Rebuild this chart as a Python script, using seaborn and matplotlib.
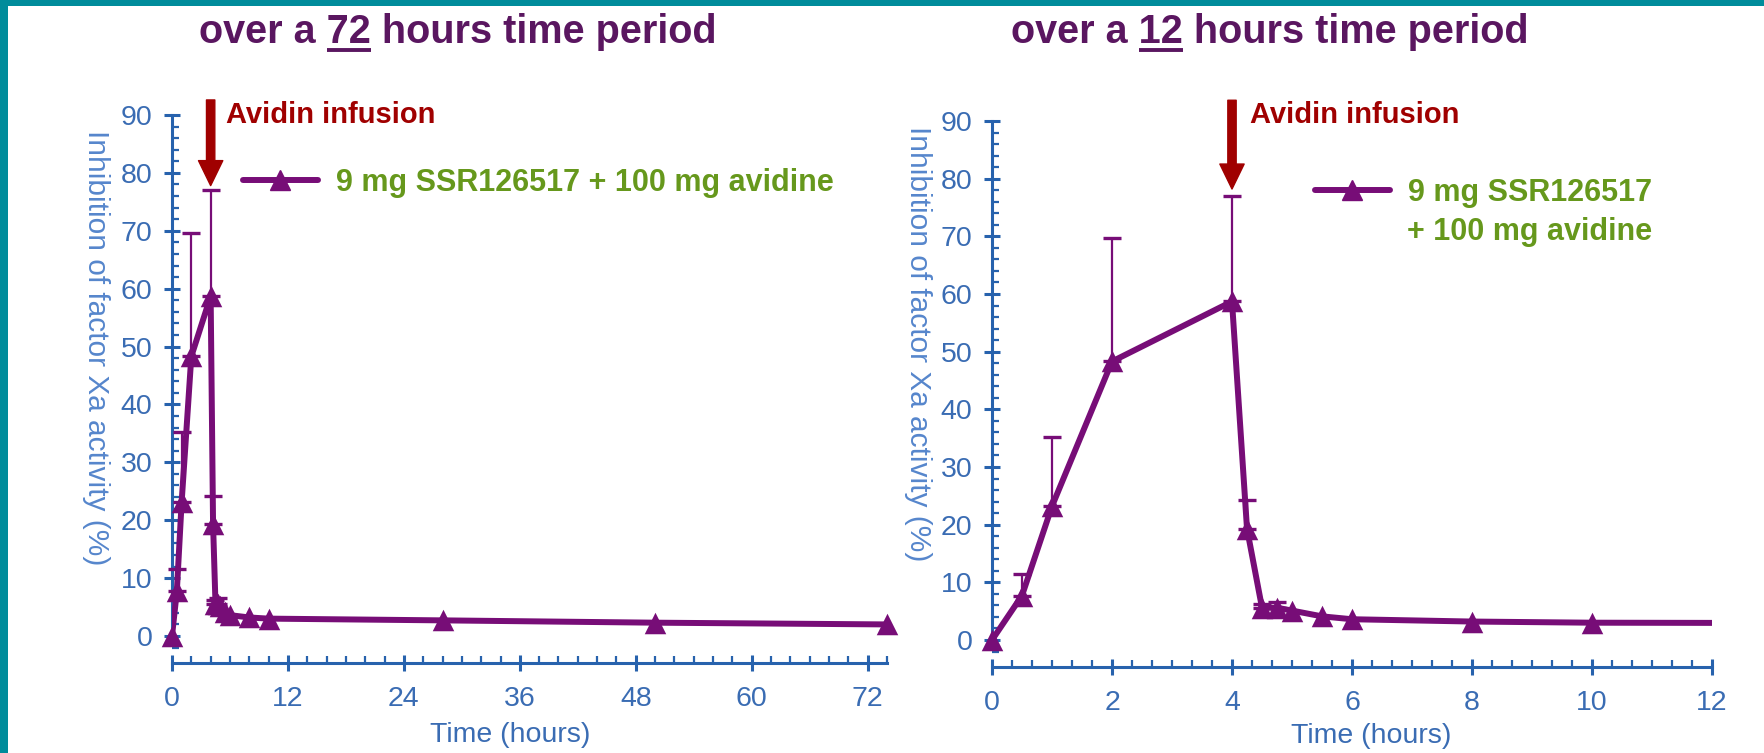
import numpy as np
import pandas as pd
import matplotlib
matplotlib.use("Agg")
import matplotlib.pyplot as plt
import seaborn as sns
from matplotlib.ticker import MultipleLocator
from matplotlib.lines import Line2D
from matplotlib.patches import Rectangle
from matplotlib.font_manager import FontProperties

# ---------------- data ----------------
time_h = [0, 0.5, 1, 2, 4, 4.25, 4.5, 4.75, 5, 5.5, 6, 8, 10, 28, 50, 74]
inhibition_pct = [0, 7.7, 23.2, 48.3, 58.7, 19.3, 5.6, 5.6, 5.1, 4.1, 3.6, 3.2, 3.0, 2.7, 2.3, 2.0]
error_time_h = [0.5, 1, 2, 4, 4.25, 4.5, 4.75]
error_top_pct = [11.5, 35.2, 69.7, 77.0, 24.2, 6.3, 6.6]
infusion_time_h = 4
series_label = "9 mg SSR126517 + 100 mg avidine"
title_parts = [("over a ", "72", " hours time period"), ("over a ", "12", " hours time period")]
x_max = [74, 12]
x_major = [12, 2]
x_minor = [2, 1 / 3]
y_max = 90

df = pd.DataFrame({"time": time_h, "inhibition": inhibition_pct})
err = pd.DataFrame({"time": error_time_h, "top": error_top_pct})
err["mean"] = err["time"].map(dict(zip(time_h, inhibition_pct)))

# ---------------- style ----------------
sns.set_style("white")
plt.rcParams["font.family"] = ["Liberation Sans", "DejaVu Sans"]

PURPLE = "#770d77"
AXBLUE = "#2762ad"
TICKBLUE = "#3a6cb3"
YLBLUE = "#5686cc"
RED = "#a00000"
GREEN = "#66981c"
TITLE = "#5a1660"
TEAL = "#008c9b"

W, H = 1764, 753
fig = plt.figure(figsize=(W / 100, H / 100), dpi=100)
fig.patch.set_facecolor("white")

# axes placement (pixel geometry measured from reference)
ax_specs = [
    dict(left=172, right=887, y0=636, y90=115),
    dict(left=992, right=1712, y0=640, y90=121),
]
axes = []
for spec in ax_specs:
    ppu = (spec["y0"] - spec["y90"]) / 90.0
    bottom_px = spec["y0"] + 3 * ppu
    ax = fig.add_axes([spec["left"] / W, 1 - bottom_px / H,
                       (spec["right"] - spec["left"]) / W, (bottom_px - spec["y90"]) / H])
    axes.append(ax)

ylabel_pos = [(-0.106, 0.567), (-0.103, 0.585)]
xlabel_pos = [(0.473, -0.152), (0.527, -0.146)]
avidin_offset = [15, 18]
avidin_text_y = [90.0, 91.0]
arrow_top_y = [92.6, 93.6]
arrow_tip_y = [77.8, 78.2]

for i, ax in enumerate(axes):
    ax.set_facecolor("white")
    sns.lineplot(data=df, x="time", y="inhibition", ax=ax, color=PURPLE,
                 linewidth=4.3, estimator=None, sort=False, zorder=3)
    sns.scatterplot(data=df, x="time", y="inhibition", ax=ax, color=PURPLE,
                    marker="^", s=240, linewidth=0, zorder=4, clip_on=False)
    ax.errorbar(err["time"], err["mean"],
                yerr=[np.zeros(len(err)), err["top"] - err["mean"]],
                fmt="none", ecolor=PURPLE, elinewidth=1.6, capsize=6.5,
                capthick=2.4, zorder=2, clip_on=False)

    ax.set_xlim(0, x_max[i])
    ax.set_ylim(-3, y_max)
    for s in ["top", "right"]:
        ax.spines[s].set_visible(False)
    ax.spines["left"].set_bounds(0, y_max)
    ax.spines["bottom"].set_bounds(0, x_max[i])
    ax.spines["bottom"].set_position(("outward", 7.2))
    for s in ["left", "bottom"]:
        ax.spines[s].set_color(AXBLUE)
        ax.spines[s].set_linewidth(2.2)
        ax.spines[s].set_zorder(1)

    ax.yaxis.set_major_locator(MultipleLocator(10))
    ax.yaxis.set_minor_locator(MultipleLocator(2))
    ax.xaxis.set_major_locator(MultipleLocator(x_major[i]))
    ax.xaxis.set_minor_locator(MultipleLocator(x_minor[i]))
    ax.tick_params(which="major", direction="inout", length=12, width=2.2,
                   color=AXBLUE, labelsize=20.5, labelcolor=TICKBLUE)
    ax.tick_params(axis="y", which="major", pad=8, left=True)
    ax.tick_params(axis="x", which="major", pad=10, bottom=True)
    ax.tick_params(which="minor", direction="in", length=5, width=1.6,
                   color=AXBLUE, left=True, bottom=True)
    ax.set_xticks(np.arange(0, x_max[i] + 0.01, x_major[i])[: int(x_max[i] // x_major[i]) + 1])

    ax.set_xlabel("Time (hours)", fontsize=20.5, color=TICKBLUE, va="center")
    ax.xaxis.set_label_coords(*xlabel_pos[i])
    ax.set_ylabel("Inhibition of factor Xa activity (%)", fontsize=21.5, color=YLBLUE,
                  rotation=270, va="center", ha="center", rotation_mode="default")
    ax.yaxis.set_label_coords(*ylabel_pos[i])

    # avidin infusion arrow + label
    ax.annotate("", xy=(infusion_time_h, arrow_tip_y[i]), xytext=(infusion_time_h, arrow_top_y[i]),
                arrowprops=dict(arrowstyle="simple,head_length=1.8,head_width=1.75,tail_width=0.6",
                                mutation_scale=10, color=RED, shrinkA=0, shrinkB=0),
                annotation_clip=False, zorder=5)
    ax.annotate("Avidin infusion", xy=(infusion_time_h, avidin_text_y[i]),
                xytext=(avidin_offset[i], 0),
                textcoords="offset pixels", ha="left", va="center", fontsize=21,
                fontweight="bold", color=RED, annotation_clip=False)

# legends
handle = Line2D([], [], color=PURPLE, linewidth=4.3, marker="^", markersize=14)
legend_labels = [series_label, series_label.split(" + ")[0]]
legend_anchor = [(243, 183), (1315, 193)]
for i, ax in enumerate(axes):
    lx, ly = legend_anchor[i]
    leg = ax.legend([handle], [legend_labels[i]], loc="center left",
                    bbox_to_anchor=(lx / W, 1 - ly / H), bbox_transform=fig.transFigure,
                    frameon=False, borderaxespad=0, borderpad=0, handlelength=2.45,
                    handletextpad=0.6, numpoints=1,
                    prop=dict(family=["Liberation Sans"], weight="bold", size=22))
    for t in leg.get_texts():
        t.set_color(GREEN)
fig.text(1407 / W, 1 - 232 / H, "+ " + series_label.split(" + ")[1], ha="left", va="center",
         fontsize=22, fontweight="bold", color=GREEN)

# titles with underlined number
title_centers = [458, 1270]
title_baseline = 43
title_fs = 28.5
renderer = fig.canvas.get_renderer()
fp = FontProperties(family=["Liberation Sans"], weight="bold", size=title_fs)
for i, (pre, num, post) in enumerate(title_parts):
    full = pre + num + post
    fig.text(title_centers[i] / W, 1 - title_baseline / H, full, ha="center", va="baseline",
             fontsize=title_fs, fontweight="bold", color=TITLE)
    w_full = renderer.get_text_width_height_descent(full, fp, ismath=False)[0]
    w_pre_num = renderer.get_text_width_height_descent(pre + num, fp, ismath=False)[0]
    w_num = renderer.get_text_width_height_descent(num, fp, ismath=False)[0]
    x_left = title_centers[i] - w_full / 2
    x0 = x_left + w_pre_num - w_num
    x1 = x_left + w_pre_num
    fig.add_artist(Line2D([x0 / W, x1 / W], [1 - 49.5 / H, 1 - 49.5 / H], transform=fig.transFigure,
                          color=TITLE, linewidth=2.8, solid_capstyle="butt"))

# teal frame (top and left edges)
fig.add_artist(Rectangle((0, 1 - 6 / H), 1, 6 / H, transform=fig.transFigure,
                         facecolor=TEAL, edgecolor="none", zorder=10))
fig.add_artist(Rectangle((0, 0), 8 / W, 1, transform=fig.transFigure,
                         facecolor=TEAL, edgecolor="none", zorder=10))

fig.savefig("out.png", dpi=100, facecolor="white")
